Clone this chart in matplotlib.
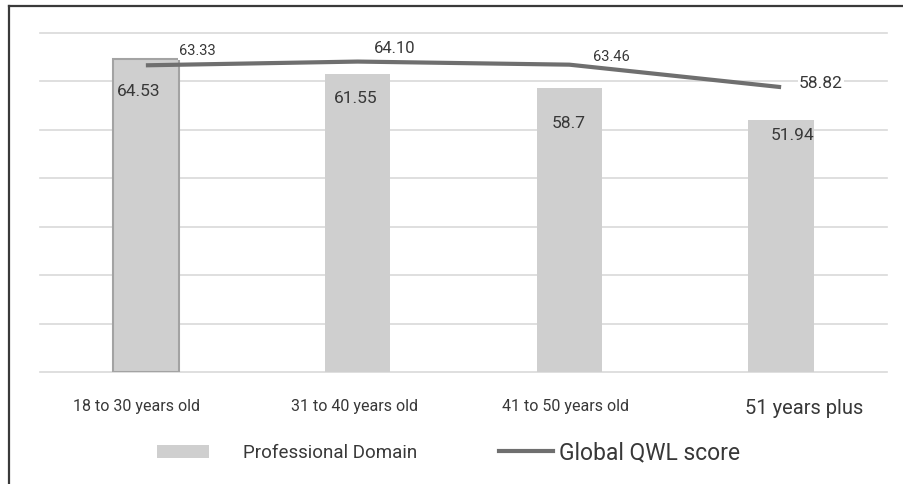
import numpy as np
import matplotlib
matplotlib.use("Agg")
import matplotlib.pyplot as plt
from matplotlib.lines import Line2D
from matplotlib.patches import Patch
from matplotlib.transforms import ScaledTranslation

plt.rcParams["font.family"] = ["Roboto", "DejaVu Sans"]
plt.rcParams["text.color"] = "#383838"

# age groups and scores
groups = ["18 to 30 years old", "31 to 40 years old", "41 to 50 years old", "51 years plus"]
professional = [64.53, 61.55, 58.70, 51.94]
professional_txt = ["64.53", "61.55", "58.7", "51.94"]
global_qwl = [63.33, 64.10, 63.46, 58.82]
global_txt = ["63.33", "64.10", "63.46", "58.82"]

bar_col = "#cfcfcf"
line_col = "#6f6f6f"

fig = plt.figure(figsize=(9.04, 4.84), dpi=100)
ax = fig.add_axes([40 / 904, 112 / 484, 847 / 904, 339 / 484])

x = np.arange(len(groups))
bars = ax.bar(x, professional, width=0.31, color=bar_col, zorder=2)
bars[0].set_edgecolor("#a3a3a3")
bars[0].set_linewidth(1.5)
ax.plot(x, global_qwl, color=line_col, lw=3, solid_capstyle="butt", zorder=3)

ax.set_xlim(-0.5, 3.5)
ax.set_ylim(0, 70)
ax.set_yticks(range(0, 71, 10))
ax.yaxis.grid(True, color="#d9d9d9", lw=1.2)
ax.set_axisbelow(True)
for gl in ax.get_ygridlines():
    gl.set_clip_on(False)
for s in ax.spines.values():
    s.set_visible(False)
ax.tick_params(left=False, labelleft=False, bottom=False, pad=16)

# category labels, nudged sideways a little
ax.set_xticks(x, groups)
tick_sizes = [11.5, 11.5, 11.5, 14.5]
tick_dx = [-9, -3, -4, 23]
for lbl, fs, dx in zip(ax.get_xticklabels(), tick_sizes, tick_dx):
    lbl.set_fontsize(fs)
    lbl.set_color("#383838")
    lbl.set_transform(lbl.get_transform() + ScaledTranslation(dx / 100, 0, fig.dpi_scale_trans))

# bar value labels inside the bars
bar_off = [(-7, -32), (-2, -25), (-1, -36), (11, -15)]
for i, (v, t) in enumerate(zip(professional, professional_txt)):
    ax.annotate(t, (x[i], v), xytext=bar_off[i], textcoords="offset pixels",
                ha="center", va="center", fontsize=12.5, zorder=4)

# line value labels
line_off = [(52, 14), (37, 13), (42, 8), (40, 4)]
line_fs = [10.5, 12, 10.5, 12.5]
for i, (v, t) in enumerate(zip(global_qwl, global_txt)):
    ax.annotate(t, (x[i], v), xytext=line_off[i], textcoords="offset pixels",
                ha="center", va="center", fontsize=line_fs[i], zorder=4,
                bbox=dict(fc="white", ec="none", pad=1))

# legend, two separate entries
leg1 = fig.legend(handles=[Patch(facecolor=bar_col, label="Professional Domain")],
                  loc="center left", bbox_to_anchor=(157 / 904, 1 - 453 / 484),
                  frameon=False, fontsize=13.5, handlelength=2.75, handleheight=0.7,
                  handletextpad=1.85, borderpad=0, borderaxespad=0)
leg2 = fig.legend(handles=[Line2D([], [], color=line_col, lw=3, label="Global QWL score")],
                  loc="center left", bbox_to_anchor=(499 / 904, 1 - 453 / 484),
                  frameon=False, fontsize=16.5, handlelength=2.35,
                  handletextpad=0.25, borderpad=0, borderaxespad=0)

# outer frame (left and top edges)
fig.add_artist(Line2D([9 / 904, 9 / 904], [0, 1 - 6 / 484], transform=fig.transFigure,
                      color="#3a3a3a", lw=1.6))
fig.add_artist(Line2D([9 / 904, 1], [1 - 6 / 484, 1 - 6 / 484], transform=fig.transFigure,
                      color="#3a3a3a", lw=1.6))

fig.savefig("out.png", dpi=100)
